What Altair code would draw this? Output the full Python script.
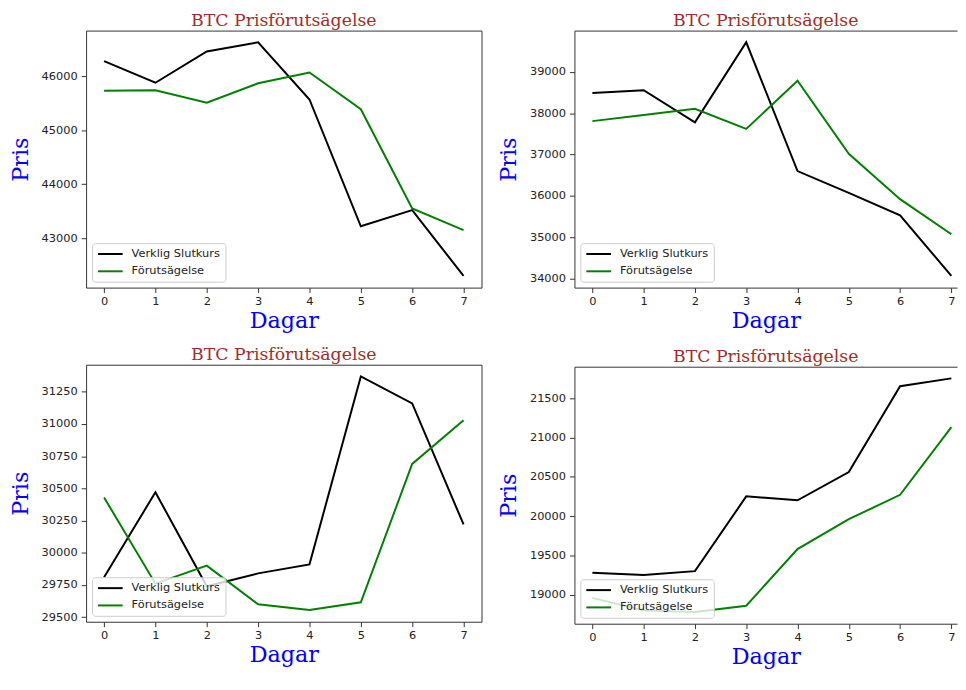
import altair as alt
import pandas as pd

# ---------------- data ----------------
days = [0, 1, 2, 3, 4, 5, 6, 7]
series_names = ["Verklig Slutkurs", "Förutsägelse"]
series_colors = ["#000000", "#008000"]
title_text = "BTC Prisförutsägelse"
x_title = "Dagar"
y_title = "Pris"

p1_actual = [46280, 45880, 46460, 46630, 45570, 43220, 43520, 42300]
p1_pred = [45730, 45740, 45510, 45870, 46070, 45390, 43550, 43150]
p1_ticks = [43000, 44000, 45000, 46000]

p2_actual = [38490, 38560, 37780, 39720, 36600, 36070, 35530, 34060]
p2_pred = [37810, 37960, 38110, 37620, 38790, 37020, 35920, 35070]
p2_ticks = [34000, 35000, 36000, 37000, 38000, 39000]

p3_actual = [29810, 30470, 29740, 29840, 29910, 31370, 31160, 30220]
p3_pred = [30430, 29760, 29900, 29600, 29555, 29615, 30690, 31030]
p3_ticks = [29500, 29750, 30000, 30250, 30500, 30750, 31000, 31250]

p4_actual = [19280, 19250, 19300, 20250, 20200, 20560, 21650, 21750]
p4_pred = [18960, 18800, 18780, 18860, 19580, 19960, 20270, 21130]
p4_ticks = [19000, 19500, 20000, 20500, 21000, 21500]

SANS = "DejaVu Sans"
SERIF = "DejaVu Serif"
INK = "#222222"
SPINE = "#333333"


def make_df(actual, pred):
    rows = []
    for d, v in zip(days, actual):
        rows.append({"Dagar": d, "Pris": v, "Serie": series_names[0]})
    for d, v in zip(days, pred):
        rows.append({"Dagar": d, "Pris": v, "Serie": series_names[1]})
    return pd.DataFrame(rows)


def ydomain(actual, pred):
    lo = min(actual + pred)
    hi = max(actual + pred)
    m = (hi - lo) * 0.05
    return [lo - m, hi + m]


def panel(actual, pred, yticks, right=False, height=260):
    df = make_df(actual, pred)
    xdom = [-0.35, 7.11] if right else [-0.35, 7.35]
    width = 387 if right else 400
    xscale = alt.Scale(domain=xdom, nice=False, zero=False)
    x_axis = alt.Axis(
        values=days, format="d", title=x_title, orient="bottom",
        titleFont=SERIF, titleFontSize=22.5, titleColor="blue",
        titleFontWeight="normal", titlePadding=3,
        labelFont=SANS, labelFontSize=11.5, labelColor=INK, labelAngle=0,
        labelPadding=3, tickSize=5, tickColor=SPINE, tickWidth=1,
        grid=False, domain=right, domainColor=SPINE, domainWidth=1,
    )
    y_axis = alt.Axis(
        values=yticks, format="d", title=y_title,
        titleFont=SERIF, titleFontSize=22.5, titleColor="blue",
        titleFontWeight="normal", titlePadding=9,
        labelFont=SANS, labelFontSize=11.5, labelColor=INK,
        labelPadding=4, tickSize=5, tickColor=SPINE, tickWidth=1,
        grid=False, domain=right, domainColor=SPINE, domainWidth=1,
    )
    x = alt.X("Dagar:Q", scale=xscale, axis=x_axis)
    y = alt.Y("Pris:Q", scale=alt.Scale(domain=ydomain(actual, pred), nice=False, zero=False), axis=y_axis)
    color = alt.Color(
        "Serie:N",
        scale=alt.Scale(domain=series_names, range=series_colors),
        sort=series_names,
        legend=alt.Legend(
            title=None, orient="bottom-left", offset=6,
            fillColor="rgba(255,255,255,0.8)", strokeColor="#cccccc",
            cornerRadius=3, padding=5, rowPadding=5.5,
            symbolType="M-1,0H4", symbolSize=100, symbolStrokeWidth=2,
            labelOffset=23, labelFont=SANS, labelFontSize=11.5,
            labelColor=INK, labelLimit=300,
        ),
    )
    title = alt.TitleParams(
        text=title_text, font=SERIF, fontSize=17.5,
        color="#a52a2a", fontWeight="normal", anchor="middle",
        baseline="alphabetic", offset=-13,
    )
    line = alt.Chart(df).mark_line(strokeWidth=2).encode(x=x, y=y, color=color)
    if not right:
        return line.properties(
            width=width, height=height, title=title,
            view=alt.ViewBackground(stroke=SPINE, strokeWidth=1),
        )
    top = alt.Chart(df).mark_point(opacity=0).encode(
        x=alt.X("Dagar:Q", scale=xscale, axis=alt.Axis(
            orient="top", labels=False, ticks=False, title=None, grid=False,
            domain=True, domainColor=SPINE, domainWidth=1)),
        y=y,
    )
    return alt.layer(line, top).resolve_axis(x="independent").properties(
        width=width, height=height, title=title,
        view=alt.ViewBackground(stroke="transparent"),
    )


p1 = panel(p1_actual, p1_pred, p1_ticks)
p2 = panel(p2_actual, p2_pred, p2_ticks, right=True)
p3 = panel(p3_actual, p3_pred, p3_ticks)
p4 = panel(p4_actual, p4_pred, p4_ticks, right=True)

col1 = alt.vconcat(p1, p3, spacing=78, bounds="flush").resolve_legend(color="independent")
col2 = alt.vconcat(p2, p4, spacing=80, bounds="flush").resolve_legend(color="independent")

chart = alt.concat(col1, col2, columns=2, spacing=14, align="none").resolve_legend(
    color="independent"
).properties(
    padding={"left": 0, "top": 0, "right": 0, "bottom": 0},
    background="white",
)

chart.save("out.html", embed_options={"renderer": "svg", "actions": False})
